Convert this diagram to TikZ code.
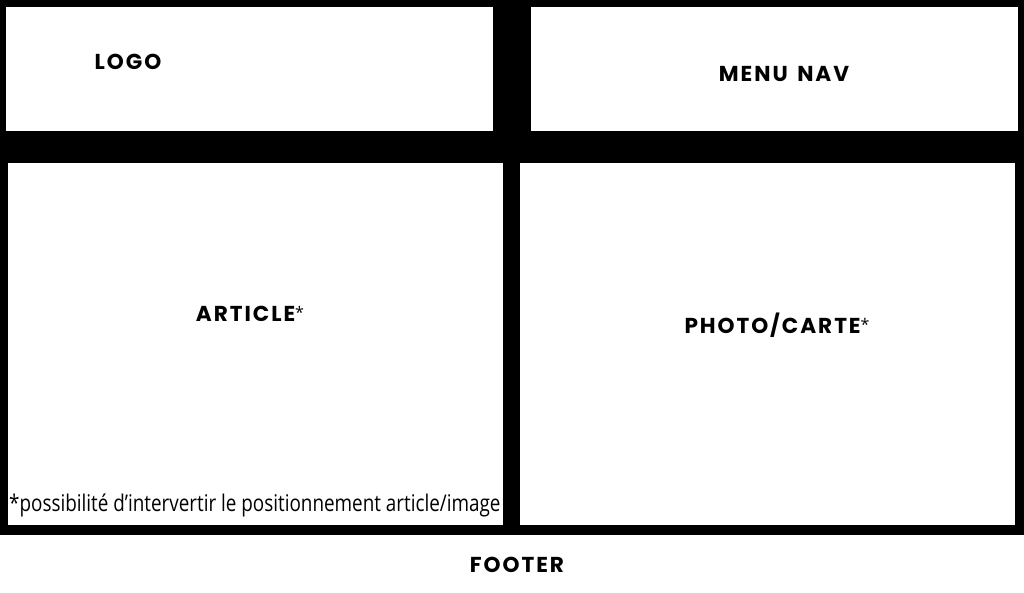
\documentclass[tikz,border=0pt]{standalone}
\usepackage{fontspec}
\setmainfont{Open Sans}
\newfontfamily\hdfont{Poppins}[LetterSpace=9]
\newfontfamily\notefont{Open Sans}[FakeStretch=0.82]
\newfontfamily\starfont{Open Sans}
\newcommand{\hdstar}{\raisebox{3pt}{\starfont\mdseries\fontsize{16}{16}\selectfont *}}
\begin{document}
\begin{tikzpicture}[x=1pt,y=-1pt,
  panel/.style={fill=white,draw=none},
  lbl/.style={font=\hdfont\bfseries\fontsize{21.6}{24}\selectfont,inner sep=0pt,anchor=center},
  note/.style={font=\notefont\fontsize{23}{26}\selectfont,inner sep=0pt,anchor=west}]
\useasboundingbox (0,0) rectangle (1024,592);
\fill[white] (0,0) rectangle (1024,592);
\fill[black] (0,0) rectangle (1024,535);
\fill[panel] (6,7) rectangle (493,131);
\fill[panel] (531,7) rectangle (1018,131);
\fill[panel] (8,163) rectangle (503,525);
\fill[panel] (520,163) rectangle (1015,525);
\node[lbl] (logo) at (128,62) {LOGO};
\node[lbl] (menu) at (784,74) {MENU\hspace{3pt} NAV};
\node[lbl] (article) at (250,314) {ARTICLE\hdstar};
\node[lbl] (photo) at (777,325) {PHOTO/CARTE\hdstar};
\node[lbl] (footer) at (517,565) {FOOTER};
\node[note] (fn) at (9,505) {*possibilité d’intervertir le positionnement article/image};
\end{tikzpicture}
\end{document}
